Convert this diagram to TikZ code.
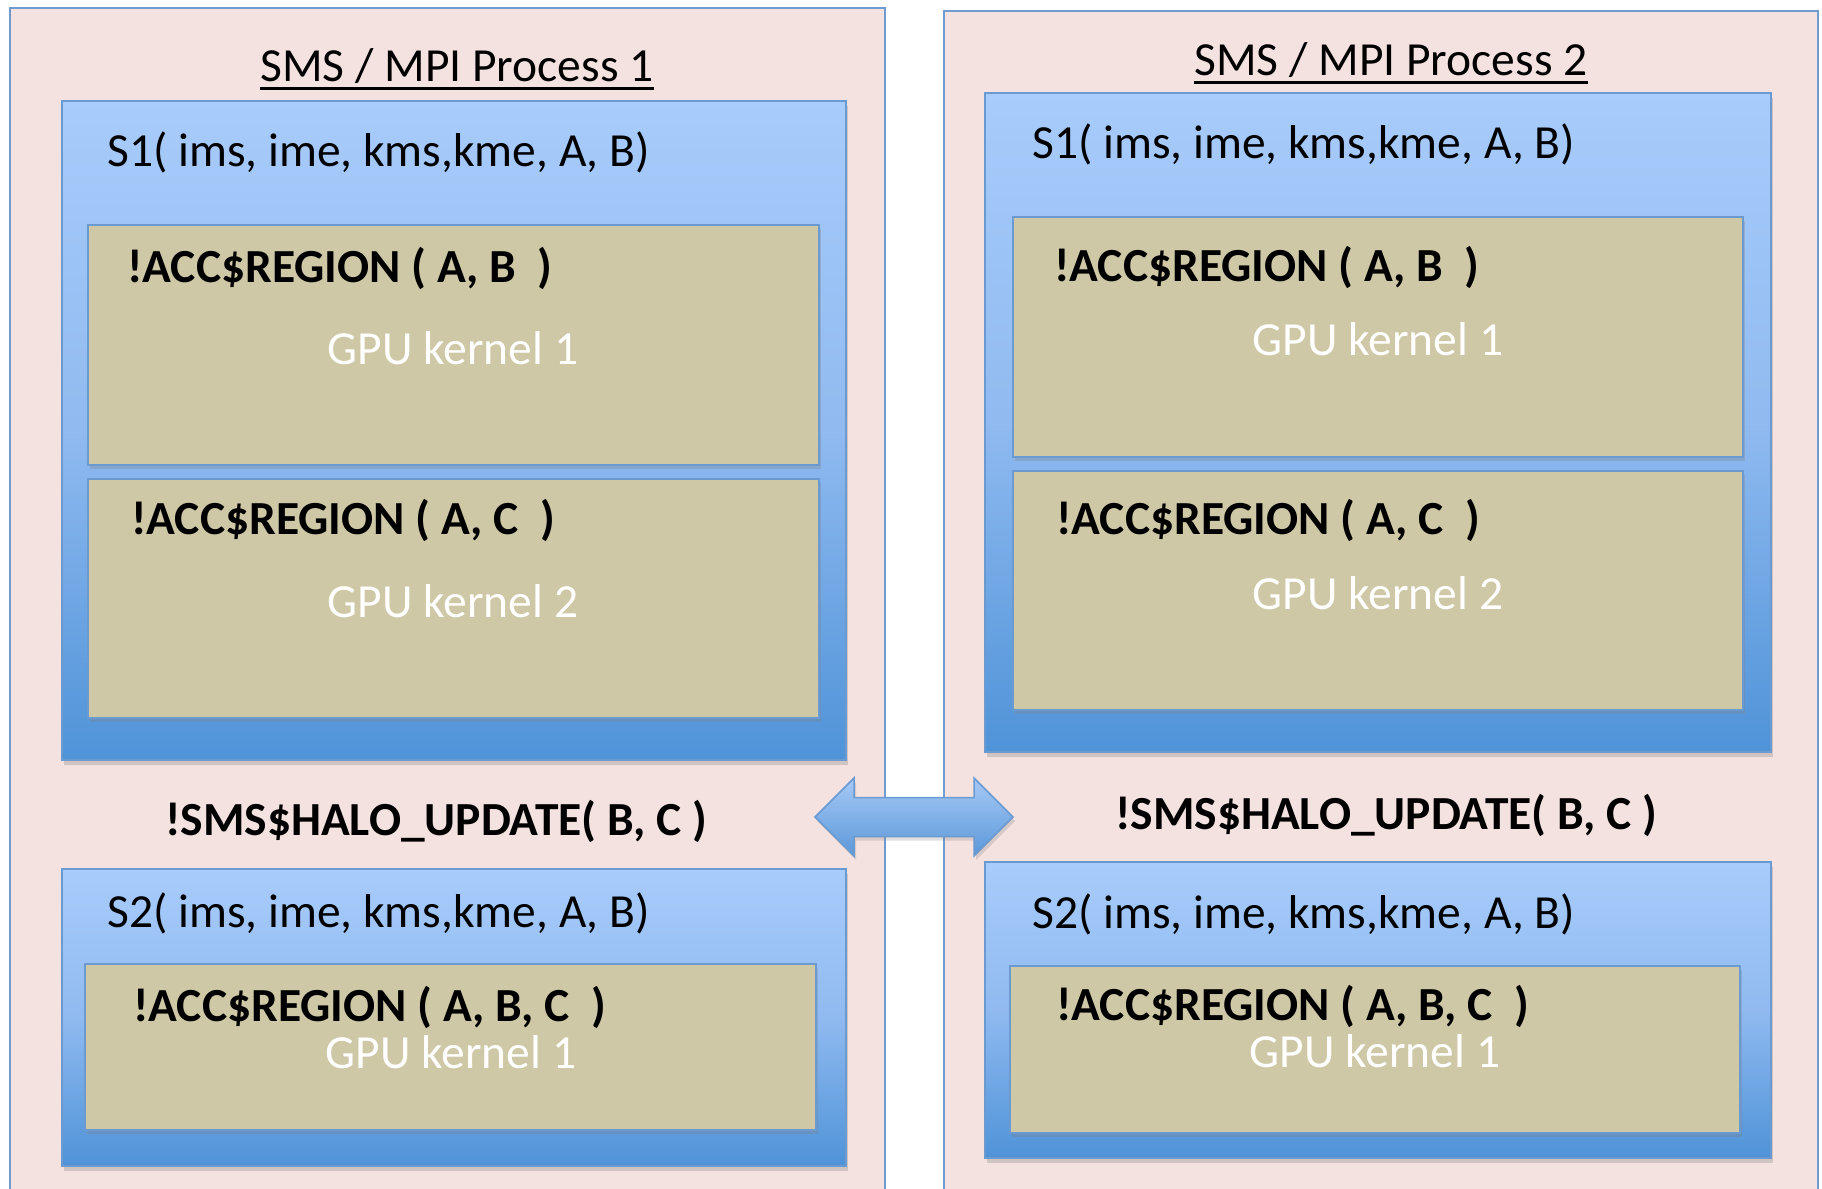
\documentclass[tikz,border=0pt]{standalone}
\usepackage{fontspec}
\setmainfont{Carlito}
\usetikzlibrary{shadows}
\definecolor{pinkbg}{HTML}{F4E2E0}
\definecolor{pinkedge}{HTML}{6F9BD1}
\definecolor{bluetop}{HTML}{A8CCFB}
\definecolor{bluemid}{HTML}{90BAF0}
\definecolor{bluebot}{HTML}{4F93D8}
\definecolor{blueedge}{HTML}{6A9AD0}
\definecolor{tanfill}{HTML}{CFC8A6}
\definecolor{arrowtop}{HTML}{A6C9F7}
\definecolor{arrowbot}{HTML}{5C98D8}
\begin{document}
\begin{tikzpicture}[x=1pt,y=-1pt,
  procbox/.style={draw=pinkedge, line width=1.5pt, fill=pinkbg, anchor=north west, inner sep=0pt, outer sep=0pt},
  subbox/.style={draw=blueedge, line width=1.5pt, top color=bluetop, bottom color=bluebot, middle color=bluemid,
     anchor=north west, inner sep=0pt, outer sep=0pt,
     drop shadow={shadow xshift=2pt, shadow yshift=-5pt, opacity=.3}},
  accbox/.style={draw=blueedge, line width=2pt, fill=tanfill, anchor=north west, inner sep=0pt, outer sep=0pt,
     drop shadow={shadow xshift=2pt, shadow yshift=-4pt, opacity=.3}},
  txt/.style={font=\fontsize{47.5}{57}\selectfont, inner sep=0pt, anchor=base west},
  boldtxt/.style={txt, font=\fontsize{47.5}{57}\selectfont\bfseries},
  gputxt/.style={txt, anchor=base, text=white},
  titletxt/.style={txt, anchor=base},
  uline/.style={line width=3pt},
  xarrow/.style={draw=blueedge, line width=1.5pt, top color=arrowtop, bottom color=arrowbot,
     drop shadow={shadow xshift=2pt, shadow yshift=-4pt, opacity=.25}}
]
\useasboundingbox (0,0) rectangle (1822,1188);
\clip (0,0) rectangle (1822,1188);
\fill[white] (0,0) rectangle (1822,1188);

% process panels
\node[procbox, minimum width=875pt, minimum height=1200pt] (p1) at (10,8) {};
\node[procbox, minimum width=874pt, minimum height=1200pt] (p2) at (944,11) {};

% titles
\node[titletxt] (t1) at (457,82) {SMS / MPI Process 1};
\draw[uline] ([yshift=-7pt]t1.base west) -- ([yshift=-7pt]t1.base east);
\node[titletxt] (t2) at (1391,76) {SMS / MPI Process 2};
\draw[uline] ([yshift=-7pt]t2.base west) -- ([yshift=-7pt]t2.base east);

% ---------- left process ----------
\node[subbox, minimum width=784pt, minimum height=659pt] (ls1) at (62,101) {};
\node[txt] (ls1t) at (107,166) {S1( ims, ime, kms,kme, A, B)};
\node[accbox, minimum width=731pt, minimum height=240pt] (la1) at (88,225) {};
\node[boldtxt] (la1t) at (127,282) {!ACC\$REGION ( A, B~~)};
\node[gputxt] (lg1) at (453,364) {GPU kernel 1};
\node[accbox, minimum width=731pt, minimum height=239pt] (la2) at (88,479) {};
\node[boldtxt] (la2t) at (131,534) {!ACC\$REGION ( A, C~~)};
\node[gputxt] (lg2) at (453,617) {GPU kernel 2};

\node[boldtxt, anchor=base] (lhalo) at (436,835) {!SMS\$HALO\_UPDATE( B, C )};

\node[subbox, minimum width=784pt, minimum height=297pt] (ls2) at (62,869) {};
\node[txt] (ls2t) at (107,927) {S2( ims, ime, kms,kme, A, B)};
\node[accbox, minimum width=731pt, minimum height=166pt] (la3) at (85,964) {};
\node[boldtxt] (la3t) at (133,1021) {!ACC\$REGION ( A, B, C~~)};
\node[gputxt] (lg3) at (451,1068) {GPU kernel 1};

% ---------- right process ----------
\node[subbox, minimum width=786pt, minimum height=659pt] (rs1) at (985,93) {};
\node[txt] (rs1t) at (1032,158) {S1( ims, ime, kms,kme, A, B)};
\node[accbox, minimum width=730pt, minimum height=240pt] (ra1) at (1013,217) {};
\node[boldtxt] (ra1t) at (1054,281) {!ACC\$REGION ( A, B~~)};
\node[gputxt] (rg1) at (1378,355) {GPU kernel 1};
\node[accbox, minimum width=730pt, minimum height=239pt] (ra2) at (1013,471) {};
\node[boldtxt] (ra2t) at (1056,534) {!ACC\$REGION ( A, C~~)};
\node[gputxt] (rg2) at (1378,609) {GPU kernel 2};

\node[boldtxt, anchor=base] (rhalo) at (1386,829) {!SMS\$HALO\_UPDATE( B, C )};

\node[subbox, minimum width=786pt, minimum height=296pt] (rs2) at (985,862) {};
\node[txt] (rs2t) at (1032,928) {S2( ims, ime, kms,kme, A, B)};
\node[accbox, minimum width=730pt, minimum height=167pt] (ra3) at (1010,966) {};
\node[boldtxt] (ra3t) at (1056,1020) {!ACC\$REGION ( A, B, C~~)};
\node[gputxt] (rg3) at (1375,1067) {GPU kernel 1};

% ---------- exchange arrow ----------
\coordinate (xc) at (914,817);
\path[xarrow] (xc) ++(-99,0) -- ++(39,-39) -- ++(0,19.5) -- ++(120,0) -- ++(0,-19.5)
   -- ++(39,39) -- ++(-39,39) -- ++(0,-19.5) -- ++(-120,0) -- ++(0,19.5) -- cycle;
\end{tikzpicture}
\end{document}
